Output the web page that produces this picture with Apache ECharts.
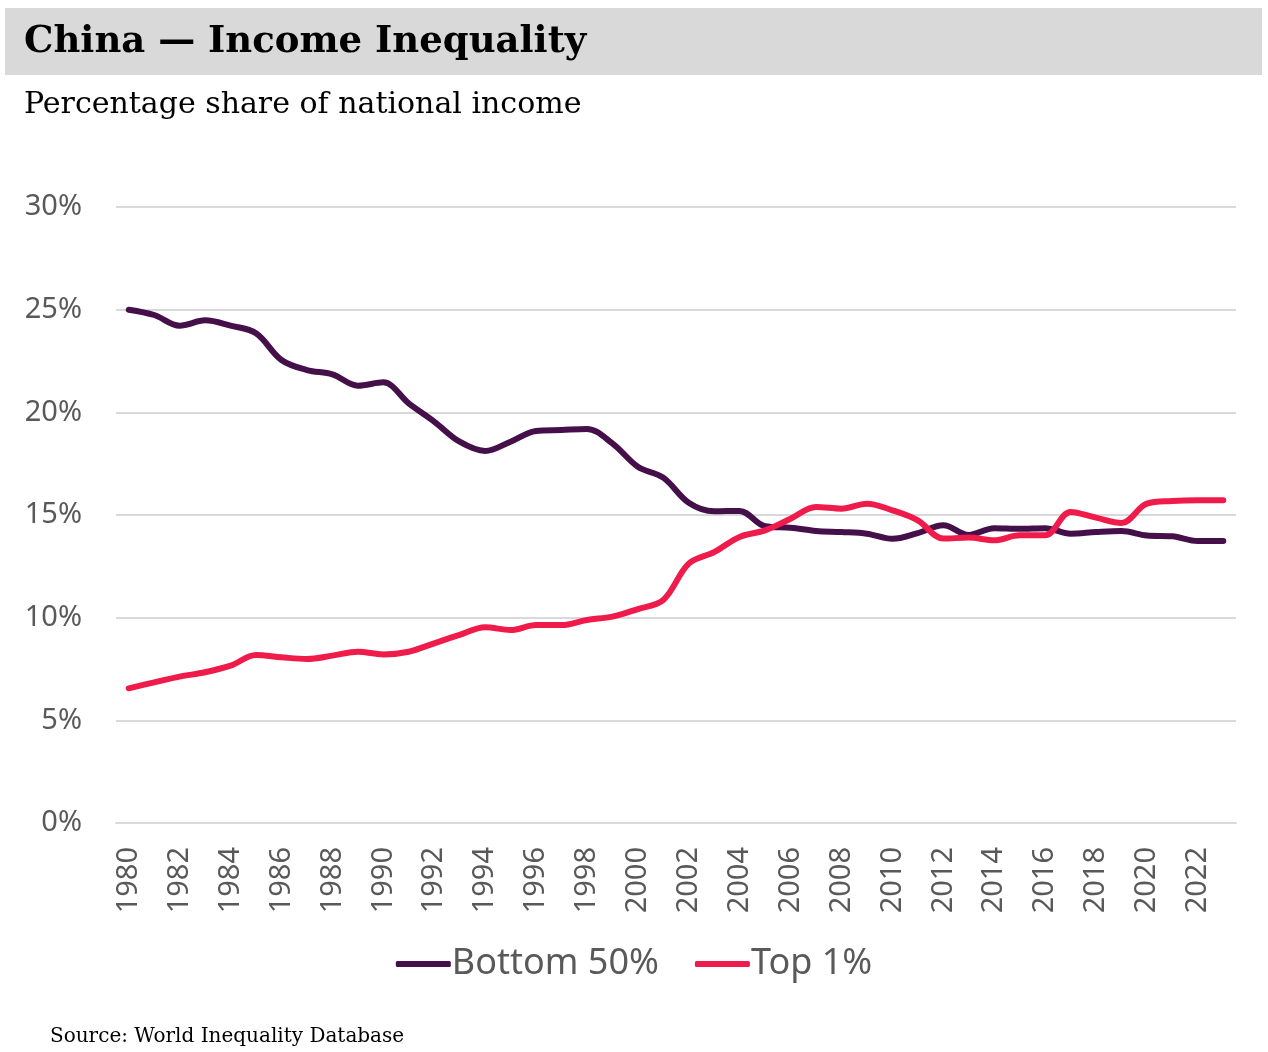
<!DOCTYPE html>
<html>
<head>
<meta charset="utf-8">
<title>China — Income Inequality</title>
<script src="https://cdn.jsdelivr.net/npm/echarts@6/dist/echarts.min.js"></script>
<style>
html, body { margin: 0; padding: 0; background: #fff; }
#main { width: 1268px; height: 1052px; }
</style>
</head>
<body>
<div id="main"></div>
<script>
// data (share of national income, %)
var years = ['1980','1981','1982','1983','1984','1985','1986','1987','1988','1989',
             '1990','1991','1992','1993','1994','1995','1996','1997','1998','1999',
             '2000','2001','2002','2003','2004','2005','2006','2007','2008','2009',
             '2010','2011','2012','2013','2014','2015','2016','2017','2018','2019',
             '2020','2021','2022','2023'];

var bottom50 = [25.0, 24.74, 24.22, 24.48, 24.22, 23.85, 22.55, 22.06, 21.85, 21.3,
                21.46, 20.44, 19.55, 18.57, 18.12, 18.57, 19.09, 19.14, 19.19, 18.49,
                17.35, 16.82, 15.6, 15.18, 15.2, 14.45, 14.38, 14.22, 14.17, 14.09,
                13.84, 14.12, 14.5, 14.03, 14.36, 14.33, 14.36, 14.09, 14.17, 14.22,
                14.0, 13.96, 13.73, 13.73];

var top1 = [6.56, 6.85, 7.13, 7.34, 7.66, 8.18, 8.07, 7.99, 8.15, 8.34,
            8.21, 8.34, 8.75, 9.16, 9.53, 9.4, 9.64, 9.64, 9.89, 10.05,
            10.42, 10.86, 12.63, 13.19, 13.93, 14.25, 14.82, 15.39, 15.31, 15.55,
            15.23, 14.74, 13.85, 13.9, 13.77, 14.01, 14.01, 15.15, 14.87, 14.61,
            15.55, 15.68, 15.72, 15.72];

var seriesNames = ['Bottom 50%', 'Top 1%'];
var seriesColors = ['#45104a', '#ef1b4b'];

var serif = "Georgia, 'DejaVu Serif', serif";
var sans = "'Noto Sans', 'Open Sans', sans-serif";

var myChart = echarts.init(document.getElementById('main'));

var option = {
    animation: false,
    backgroundColor: '#fff',
    graphic: [{
        type: 'rect',
        shape: { x: 5, y: 8, width: 1257, height: 67 },
        style: { fill: '#d9d9d9' },
        z: -1
    }],
    title: [{
        text: 'China — Income Inequality',
        left: 19,
        top: 19,
        textStyle: { fontFamily: serif, fontWeight: 'bold', fontSize: 37, color: '#000' }
    }, {
        text: 'Percentage share of national income',
        left: 19,
        top: 85,
        textStyle: { fontFamily: serif, fontWeight: 'normal', fontSize: 30, color: '#000' }
    }, {
        text: 'Source: World Inequality Database',
        left: 45,
        top: 1022,
        textStyle: { fontFamily: serif, fontWeight: 'normal', fontSize: 20, color: '#000' }
    }],
    legend: {
        data: seriesNames,
        top: 941,
        left: 'center',
        icon: 'roundRect',
        itemWidth: 55,
        itemHeight: 6,
        itemGap: 36,
        textStyle: { fontFamily: sans, fontSize: 36, color: '#595959', padding: [0, 0, 0, -4] }
    },
    grid: { left: 116, right: 32, top: 207, bottom: 229 },
    xAxis: {
        type: 'category',
        data: years,
        boundaryGap: true,
        axisLine: { show: true, lineStyle: { color: '#d9d9d9', width: 2 } },
        axisTick: { show: false },
        axisLabel: {
            interval: 1,
            rotate: 90,
            margin: 24,
            fontFamily: sans,
            fontSize: 29,
            color: '#595959'
        }
    },
    yAxis: {
        type: 'value',
        min: 0,
        max: 30,
        interval: 5,
        axisLine: { show: false },
        axisTick: { show: false },
        splitLine: { lineStyle: { color: '#d9d9d9', width: 2 } },
        axisLabel: {
            formatter: '{value}%',
            margin: 34,
            fontFamily: sans,
            fontSize: 29,
            color: '#595959'
        }
    },
    series: [{
        name: seriesNames[0],
        type: 'line',
        data: bottom50,
        smooth: 0.35,
        symbol: 'none',
        color: seriesColors[0],
        lineStyle: { width: 6, cap: 'round' }
    }, {
        name: seriesNames[1],
        type: 'line',
        data: top1,
        smooth: 0.35,
        symbol: 'none',
        color: seriesColors[1],
        lineStyle: { width: 6, cap: 'round' }
    }]
};

myChart.setOption(option);
</script>
</body>
</html>
